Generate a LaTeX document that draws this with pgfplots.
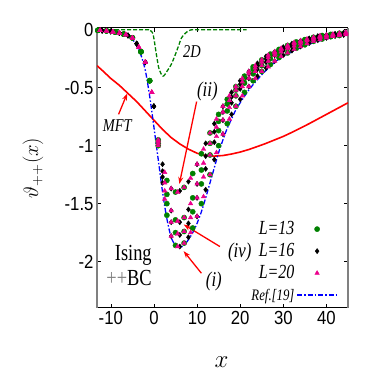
\documentclass[border=0pt]{standalone}
\usepackage{pgfplots}
\pgfplotsset{compat=1.18}
\usepackage{pgfplotstable}
\usepackage{fontspec}
\setmainfont{Liberation Serif}[FakeStretch=0.8]
\setsansfont{Liberation Sans}[FakeStretch=0.88]
\usetikzlibrary{arrows.meta}

\definecolor{dgreen}{RGB}{0,128,0}

\pgfplotsset{
    markleg/.style={legend image code/.code={\draw[mark repeat=2,mark phase=2,##1] plot coordinates {(0pt,0pt) (20pt,0pt) (40pt,0pt)};}},
    lineleg/.style={legend image code/.code={\draw[##1] (0pt,0pt) -- (40pt,0pt);}},
}

% columns: a = (i), b, c = (iv), d = (ii)
\pgfplotstableread{
x a b c d
-13 -0.005 -0.005 -0.005 -0.005
-11 -0.01 -0.01 -0.01 -0.01
-9 -0.02 -0.02 -0.02 -0.02
-7 -0.038 -0.038 -0.038 -0.038
-5 -0.07 -0.07 -0.07 -0.07
-3 -0.19 -0.19 -0.19 -0.19
-1 -0.44 -0.44 -0.44 -0.44
1 -1.00 -0.98 -0.96 -0.95
3 -1.60 -1.50 -1.42 -1.30
5 -1.86 -1.75 -1.64 -1.40
7 -1.84 -1.74 -1.62 -1.36
9 -1.71 -1.57 -1.45 -1.24
11 -1.50 -1.33 -1.21 -1.07
13 -1.25 -1.08 -0.98 -0.89
15 -1.00 -0.87 -0.79 -0.73
17 -0.81 -0.70 -0.64 -0.60
19 -0.66 -0.57 -0.52 -0.49
21 -0.54 -0.46 -0.42 -0.40
23 -0.44 -0.38 -0.34 -0.32
25 -0.36 -0.31 -0.28 -0.26
27 -0.30 -0.25 -0.22 -0.21
29 -0.24 -0.20 -0.18 -0.17
31 -0.20 -0.16 -0.145 -0.135
33 -0.16 -0.13 -0.115 -0.105
35 -0.13 -0.10 -0.09 -0.085
37 -0.10 -0.08 -0.07 -0.065
39 -0.08 -0.06 -0.055 -0.05
41 -0.06 -0.05 -0.045 -0.04
43 -0.05 -0.04 -0.035 -0.03
}\tabA

\pgfplotstableread{
x a b c d
-12 -0.008 -0.008 -0.008 -0.008
-10 -0.015 -0.015 -0.015 -0.015
-8 -0.028 -0.028 -0.028 -0.028
-6 -0.05 -0.05 -0.05 -0.05
-4 -0.12 -0.12 -0.12 -0.12
-2 -0.28 -0.28 -0.28 -0.28
0 -0.66 -0.66 -0.66 -0.66
2 -1.32 -1.27 -1.22 -1.16
4 -1.78 -1.66 -1.56 -1.37
6 -1.87 -1.77 -1.66 -1.39
8 -1.79 -1.67 -1.55 -1.31
10 -1.61 -1.45 -1.33 -1.16
12 -1.38 -1.20 -1.09 -0.98
14 -1.12 -0.97 -0.88 -0.81
16 -0.90 -0.78 -0.71 -0.66
18 -0.73 -0.63 -0.58 -0.54
20 -0.60 -0.51 -0.47 -0.44
22 -0.49 -0.42 -0.38 -0.36
24 -0.40 -0.34 -0.31 -0.29
26 -0.33 -0.28 -0.25 -0.23
28 -0.27 -0.22 -0.20 -0.19
30 -0.22 -0.18 -0.16 -0.15
32 -0.18 -0.145 -0.13 -0.12
34 -0.145 -0.115 -0.10 -0.095
36 -0.115 -0.09 -0.08 -0.075
38 -0.09 -0.07 -0.06 -0.055
40 -0.07 -0.055 -0.05 -0.045
42 -0.055 -0.045 -0.04 -0.035
44 -0.045 -0.035 -0.03 -0.025
}\tabB

\pgfplotstableread{
x a b c d
-12.5 -0.005 -0.005 -0.005 -0.005
-11 -0.01 -0.01 -0.01 -0.01
-9.5 -0.018 -0.018 -0.018 -0.018
-8 -0.028 -0.028 -0.028 -0.028
-6.5 -0.043 -0.043 -0.043 -0.043
-5 -0.07 -0.07 -0.07 -0.07
-3.5 -0.15 -0.15 -0.15 -0.15
-2 -0.28 -0.28 -0.28 -0.28
-0.5 -0.54 -0.54 -0.54 -0.54
1 -1.00 -0.98 -0.96 -0.95
2.5 -1.46 -1.39 -1.32 -1.23
4 -1.78 -1.66 -1.56 -1.37
5.5 -1.87 -1.76 -1.65 -1.40
7 -1.84 -1.74 -1.62 -1.36
8.5 -1.75 -1.62 -1.50 -1.28
10 -1.61 -1.45 -1.33 -1.16
11.5 -1.44 -1.27 -1.15 -1.03
13 -1.25 -1.08 -0.98 -0.89
14.5 -1.06 -0.92 -0.84 -0.77
16 -0.90 -0.78 -0.71 -0.66
17.5 -0.77 -0.67 -0.61 -0.57
19 -0.66 -0.57 -0.52 -0.49
20.5 -0.57 -0.49 -0.45 -0.42
22 -0.49 -0.42 -0.38 -0.36
23.5 -0.42 -0.36 -0.33 -0.31
25 -0.36 -0.31 -0.28 -0.26
26.5 -0.32 -0.27 -0.24 -0.22
28 -0.27 -0.22 -0.20 -0.19
29.5 -0.23 -0.19 -0.17 -0.16
31 -0.20 -0.16 -0.145 -0.135
32.5 -0.17 -0.14 -0.12 -0.11
34 -0.145 -0.115 -0.10 -0.095
35.5 -0.12 -0.095 -0.085 -0.08
37 -0.10 -0.08 -0.07 -0.065
38.5 -0.085 -0.065 -0.058 -0.052
40 -0.07 -0.055 -0.05 -0.045
41.5 -0.058 -0.048 -0.042 -0.038
43 -0.05 -0.04 -0.035 -0.03
44.5 -0.042 -0.032 -0.028 -0.022
}\tabC

\begin{document}
\begin{tikzpicture}
\useasboundingbox (-97pt,-74pt) rectangle (277pt,308pt);
\begin{axis}[
    at={(0pt,0pt)}, anchor=south west,
    width=251pt, height=280pt, scale only axis,
    xmin=-13.2, xmax=45, ymin=-2.4, ymax=0.015,
    xtick={-10,0,10,20,30,40},
    ytick={-2,-1.5,-1,-0.5,0},
    tick align=inside,
    major tick length=4pt,
    tick style={black, line width=0.6pt},
    separate axis lines,
    x axis line style={black, line width=1pt},
    y axis line style={gray, line width=1.2pt},
    /pgf/number format/assume math mode=true,
    tick label style={font=\sffamily\fontsize{19}{19}\selectfont},
    xlabel={$x$},
    ylabel={$\vartheta_{++}(x)$},
    xlabel style={font=\fontsize{23}{25}\selectfont, at={(axis description cs:0.496,-0.194)}, anchor=center},
    ylabel style={font=\fontsize{21}{23}\selectfont, at={(axis description cs:-0.255,0.5)}, anchor=center},
    legend style={at={(axis description cs:0.96,0.006)}, anchor=south east,
        draw=none, fill=none, inner sep=0pt, font=\itshape\fontsize{20}{22}\selectfont,
        nodes={text height=13pt, text depth=3pt, inner ysep=3pt, inner xsep=2pt},
        row sep=0pt, column sep=0pt},
    legend cell align=right,
    legend plot pos=right,
    l13/.style={only marks, mark=*, mark size=2.6pt, color=dgreen},
    l16/.style={only marks, mark=diamond*, mark size=2.6pt, color=black},
    l20/.style={only marks, mark=triangle*, mark size=2.6pt, color=magenta},
]
% 2D
\addplot[dgreen, line width=1.3pt, dash pattern=on 4pt off 2pt, smooth, forget plot] coordinates {
(-13.2,0) (-2,0) (-1,-0.005) (-0.2,-0.04) (0.6,-0.22) (1.2,-0.34) (2.1,-0.40)
(3,-0.36) (4,-0.30) (4.9,-0.22) (5.7,-0.14) (6.4,-0.07) (7.3,-0.03) (8.3,-0.005) (10,0) (21.5,0)
};
% MFT
\addplot[red, line width=1.6pt, forget plot] coordinates {
(-13.2,-0.31) (-12,-0.35) (-10,-0.42) (-8,-0.48) (-6,-0.55) (-4,-0.62) (-2,-0.70)
(0,-0.78) (2,-0.86) (4,-0.93) (6,-0.985) (8,-1.03) (10,-1.065) (12,-1.085) (14,-1.09)
(16,-1.085) (18,-1.072) (20,-1.055) (22,-1.033) (24,-1.007) (26,-0.98) (28,-0.95)
(30,-0.92) (32,-0.885) (34,-0.848) (36,-0.81) (38,-0.77) (40,-0.73) (42,-0.69) (44,-0.65) (45,-0.63)
};
% L=13
\addplot[l13, markleg] table[x=x, y=a] {\tabA};
\addlegendentry{L=13}
\addplot[l13, forget plot] table[x=x, y=b] {\tabA};
\addplot[l13, forget plot] table[x=x, y=c] {\tabA};
\addplot[l13, forget plot] table[x=x, y=d] {\tabA};
% L=16
\addplot[l16, markleg] table[x=x, y=a] {\tabB};
\addlegendentry{L=16}
\addplot[l16, forget plot] table[x=x, y=b] {\tabB};
\addplot[l16, forget plot] table[x=x, y=c] {\tabB};
\addplot[l16, forget plot] table[x=x, y=d] {\tabB};
% L=20
\addplot[l20, markleg] table[x=x, y=a] {\tabC};
\addlegendentry{L=20}
\addplot[l20, forget plot] table[x=x, y=b] {\tabC};
\addplot[l20, forget plot] table[x=x, y=c] {\tabC};
\addplot[l20, forget plot] table[x=x, y=d] {\tabC};
% Ref.[19]
\addplot[blue, line width=1.3pt, dash pattern=on 5pt off 2pt on 1.5pt off 2pt, smooth, lineleg] coordinates {
(-13.2,-0.01) (-12,-0.012) (-10,-0.02) (-8,-0.03) (-7,-0.04) (-6,-0.055) (-5,-0.08)
(-4,-0.14) (-3,-0.22) (-2,-0.35) (-1,-0.57) (0,-0.84) (1,-1.12) (2,-1.40) (3,-1.63)
(4,-1.79) (5,-1.86) (6,-1.875) (7,-1.86) (8,-1.81) (9,-1.75) (10,-1.67) (11,-1.57)
(12,-1.45) (13,-1.32) (14,-1.19) (15,-1.06) (16,-0.95) (17,-0.85) (18,-0.77) (19,-0.69)
(20,-0.63) (22,-0.52) (24,-0.43) (26,-0.35) (28,-0.28) (30,-0.23) (32,-0.19) (34,-0.155)
(36,-0.125) (38,-0.10) (40,-0.08) (42,-0.06) (45,-0.04)
};
\addlegendentry{\fontsize{16}{16}\selectfont Ref.[19]}

% annotations
\node[font=\itshape\fontsize{18}{18}\selectfont] at (axis cs:8.8,-0.19) {2D};
\node[font=\itshape\fontsize{18}{18}\selectfont] at (axis cs:-8.5,-0.83) {MFT};
\draw[red, line width=1.3pt, -{Stealth[length=7pt,width=5pt]}] (axis cs:-8.2,-0.73) -- (axis cs:-6.2,-0.55);
\node[font=\itshape\fontsize{21}{21}\selectfont] at (axis cs:12.4,-0.53) {(ii)};
\draw[red, line width=1.3pt, -{Stealth[length=7pt,width=5pt]}] (axis cs:9.9,-0.62) -- (axis cs:5.9,-1.33);
\node[font=\itshape\fontsize{21}{21}\selectfont] at (axis cs:19.9,-1.92) {(iv)};
\draw[red, line width=1.3pt, -{Stealth[length=7pt,width=5pt]}] (axis cs:15.3,-1.87) -- (axis cs:6.9,-1.68);
\node[font=\itshape\fontsize{21}{21}\selectfont] at (axis cs:13.9,-2.17) {(i)};
\draw[red, line width=1.3pt, -{Stealth[length=7pt,width=5pt]}] (axis cs:11.0,-2.10) -- (axis cs:6.9,-1.91);
\node[font=\fontsize{23}{25}\selectfont, align=right, anchor=east] at (axis cs:0.3,-2.03) {Ising\\{\color{gray}++}BC};
\end{axis}
\end{tikzpicture}
\end{document}
